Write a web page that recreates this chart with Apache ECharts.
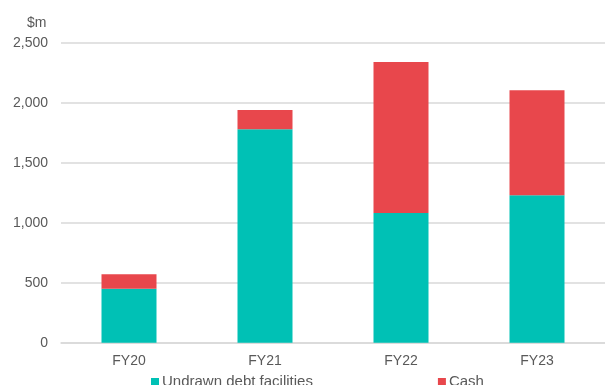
<!DOCTYPE html>
<html>
<head>
<meta charset="utf-8">
<script src="https://cdn.jsdelivr.net/npm/echarts@6/dist/echarts.min.js"></script>
<style>
html,body{margin:0;padding:0;background:#fff;}
#c{width:605px;height:385px;}
</style>
</head>
<body>
<div id="c"></div>
<script>
const categories = ['FY20', 'FY21', 'FY22', 'FY23'];
const undrawn = [450, 1778, 1081, 1228];
const cash = [120, 161, 1258, 875];
const seriesNames = ['Undrawn debt facilities', 'Cash'];
const unitLabel = '$m';

const chart = echarts.init(document.getElementById('c'), null, {renderer: 'canvas'});
const font = 'Liberation Sans, Arial, sans-serif';
chart.setOption({
  animation: false,
  textStyle: {fontFamily: font},
  grid: {left: 61, right: 0, top: 42.7, bottom: 42.3},
  graphic: [{
    type: 'text', left: 27, top: 16,
    style: {text: unitLabel, font: '14px ' + font, fill: '#595959'}
  }],
  legend: {
    left: 151, top: 374.5, padding: 0, itemWidth: 8, itemHeight: 8, itemGap: 125,
    icon: 'rect',
    textStyle: {fontSize: 15, color: '#595959', fontFamily: font, padding: [0, 0, 0, -2]},
    data: seriesNames
  },
  xAxis: {
    type: 'category', data: categories,
    axisLine: {lineStyle: {color: '#d9d9d9', width: 1.5}},
    axisTick: {show: false},
    axisLabel: {color: '#595959', fontSize: 14, margin: 11, fontFamily: font}
  },
  yAxis: {
    type: 'value', min: 0, max: 2500, interval: 500,
    axisLine: {show: false}, axisTick: {show: false},
    splitLine: {lineStyle: {color: '#d9d9d9', width: 1.5}},
    axisLabel: {color: '#595959', fontSize: 14, margin: 13, fontFamily: font,
      formatter: v => v.toLocaleString('en-US')}
  },
  series: [
    {name: seriesNames[0], type: 'bar', stack: 't', data: undrawn, barWidth: 55,
     itemStyle: {color: '#00C1B5'}},
    {name: seriesNames[1], type: 'bar', stack: 't', data: cash, barWidth: 55,
     itemStyle: {color: '#E8474C'}}
  ]
});
</script>
</body>
</html>
